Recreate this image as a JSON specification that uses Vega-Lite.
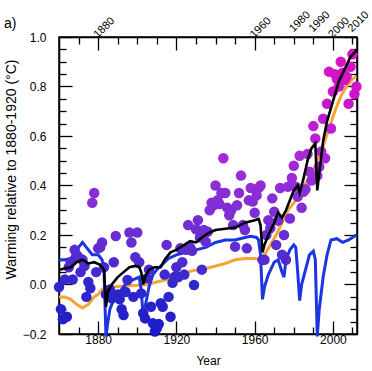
{
  "$schema": "https://vega.github.io/schema/vega-lite/v6.json",
  "width": 298,
  "height": 297,
  "autosize": {"type": "none"},
  "padding": {"left": 59, "top": 37, "right": 15, "bottom": 37},
  "background": "white",
  "config": {
    "font": "Liberation Sans",
    "view": {"stroke": "black", "strokeWidth": 1.5},
    "axis": {
      "labelFont": "Liberation Sans",
      "labelFontSize": 12,
      "labelColor": "black",
      "titleFont": "Liberation Sans",
      "titleFontSize": 12,
      "titleFontWeight": "normal",
      "titleColor": "black",
      "domainColor": "black",
      "domainWidth": 1.5,
      "tickColor": "black",
      "tickWidth": 1.3,
      "grid": false
    }
  },
  "title": {"text": "a)", "anchor": "start", "frame": "group", "fontSize": 14, "fontWeight": "normal", "font": "Liberation Sans", "color": "black", "dx": -55, "dy": 27},
  "datasets": {
    "points": [
      {"year":1860,"temp":-0.01},{"year":1861,"temp":-0.10},{"year":1862,"temp":-0.14},{"year":1863,"temp":0.02},{"year":1864,"temp":-0.13},
      {"year":1865,"temp":0.07},{"year":1866,"temp":0.09},{"year":1867,"temp":0.02},{"year":1868,"temp":0.14},{"year":1869,"temp":0.12},
      {"year":1870,"temp":0.11},{"year":1871,"temp":0.05},{"year":1872,"temp":0.10},{"year":1873,"temp":0.075},{"year":1874,"temp":-0.05},
      {"year":1875,"temp":0.01},{"year":1876,"temp":-0.015},{"year":1877,"temp":0.33},{"year":1878,"temp":0.37},{"year":1879,"temp":0.05},
      {"year":1880,"temp":0.146},{"year":1881,"temp":0.15},{"year":1882,"temp":0.17},{"year":1883,"temp":0.07},{"year":1884,"temp":-0.04},
      {"year":1885,"temp":-0.03},{"year":1886,"temp":-0.02},{"year":1887,"temp":-0.056},{"year":1888,"temp":0.09},{"year":1889,"temp":0.196},
      {"year":1890,"temp":-0.04},{"year":1891,"temp":-0.06},{"year":1892,"temp":-0.10},{"year":1893,"temp":-0.123},{"year":1894,"temp":-0.03},
      {"year":1895,"temp":0.018},{"year":1896,"temp":0.21},{"year":1897,"temp":0.17},{"year":1898,"temp":-0.05},{"year":1899,"temp":0.11},
      {"year":1900,"temp":0.21},{"year":1901,"temp":0.09},{"year":1902,"temp":-0.036},{"year":1903,"temp":-0.116},{"year":1904,"temp":-0.137},
      {"year":1905,"temp":0.025},{"year":1906,"temp":0.06},{"year":1907,"temp":-0.09},{"year":1908,"temp":-0.157},{"year":1909,"temp":-0.19},
      {"year":1910,"temp":-0.177},{"year":1911,"temp":-0.16},{"year":1912,"temp":-0.076},{"year":1913,"temp":-0.09},{"year":1914,"temp":0.04},
      {"year":1915,"temp":0.16},{"year":1916,"temp":-0.05},{"year":1917,"temp":-0.13},{"year":1918,"temp":0.007},{"year":1919,"temp":0.03},
      {"year":1920,"temp":0.07},{"year":1921,"temp":0.03},{"year":1922,"temp":0.146},{"year":1923,"temp":0.09},{"year":1924,"temp":0.04},
      {"year":1925,"temp":0.14},{"year":1926,"temp":0.24},{"year":1927,"temp":0.15},{"year":1928,"temp":0.136},{"year":1929,"temp":-0.002},
      {"year":1930,"temp":0.223},{"year":1931,"temp":0.26},{"year":1932,"temp":0.19},{"year":1933,"temp":0.06},{"year":1934,"temp":0.22},
      {"year":1935,"temp":0.173},{"year":1936,"temp":0.213},{"year":1937,"temp":0.30},{"year":1938,"temp":0.33},{"year":1939,"temp":0.32},
      {"year":1940,"temp":0.40},{"year":1941,"temp":0.34},{"year":1942,"temp":0.325},{"year":1943,"temp":0.37},{"year":1944,"temp":0.51},
      {"year":1945,"temp":0.37},{"year":1946,"temp":0.31},{"year":1947,"temp":0.28},{"year":1948,"temp":0.30},{"year":1949,"temp":0.24},
      {"year":1950,"temp":0.153},{"year":1951,"temp":0.32},{"year":1952,"temp":0.37},{"year":1953,"temp":0.44},{"year":1954,"temp":0.24},
      {"year":1955,"temp":0.22},{"year":1956,"temp":0.146},{"year":1957,"temp":0.34},{"year":1958,"temp":0.39},{"year":1959,"temp":0.335},
      {"year":1960,"temp":0.29},{"year":1961,"temp":0.36},{"year":1962,"temp":0.39},{"year":1963,"temp":0.40},{"year":1964,"temp":0.10},
      {"year":1965,"temp":0.10},{"year":1966,"temp":0.20},{"year":1967,"temp":0.26},{"year":1968,"temp":0.227},{"year":1969,"temp":0.348},
      {"year":1970,"temp":0.294},{"year":1971,"temp":0.16},{"year":1972,"temp":0.258},{"year":1973,"temp":0.39},{"year":1974,"temp":0.12},
      {"year":1975,"temp":0.20},{"year":1976,"temp":0.10},{"year":1977,"temp":0.395},{"year":1978,"temp":0.267},{"year":1979,"temp":0.43},
      {"year":1980,"temp":0.48},{"year":1981,"temp":0.395},{"year":1982,"temp":0.355},{"year":1983,"temp":0.52},{"year":1984,"temp":0.31},
      {"year":1985,"temp":0.375},{"year":1986,"temp":0.385},{"year":1987,"temp":0.527},{"year":1988,"temp":0.456},{"year":1989,"temp":0.42},
      {"year":1990,"temp":0.64},{"year":1991,"temp":0.59},{"year":1992,"temp":0.44},{"year":1993,"temp":0.476},{"year":1994,"temp":0.537},
      {"year":1995,"temp":0.67},{"year":1996,"temp":0.51},{"year":1997,"temp":0.73},{"year":1998,"temp":0.86},{"year":1999,"temp":0.63},
      {"year":2000,"temp":0.78},{"year":2001,"temp":0.85},{"year":2002,"temp":0.83},{"year":2003,"temp":0.80},{"year":2004,"temp":0.90},
      {"year":2005,"temp":0.856},{"year":2006,"temp":0.826},{"year":2007,"temp":0.84},{"year":2008,"temp":0.73},{"year":2009,"temp":0.88},
      {"year":2010,"temp":0.93},{"year":2011,"temp":0.77},{"year":2012,"temp":0.80}
    ],
    "lines": [
      {"s":"black","year":1860,"v":0.06},{"s":"black","year":1863,"v":0.065},{"s":"black","year":1866,"v":0.07},{"s":"black","year":1869,"v":0.09},
      {"s":"black","year":1872,"v":0.10},{"s":"black","year":1875,"v":0.085},{"s":"black","year":1878,"v":0.09},{"s":"black","year":1881,"v":0.08},
      {"s":"black","year":1883,"v":0.06},{"s":"black","year":1884,"v":-0.09},{"s":"black","year":1885,"v":-0.03},{"s":"black","year":1887,"v":0.0},
      {"s":"black","year":1890,"v":0.03},{"s":"black","year":1893,"v":0.05},{"s":"black","year":1896,"v":0.07},{"s":"black","year":1899,"v":0.075},
      {"s":"black","year":1901,"v":0.07},{"s":"black","year":1902,"v":0.05},{"s":"black","year":1903,"v":0.0},{"s":"black","year":1904,"v":0.03},
      {"s":"black","year":1906,"v":0.06},{"s":"black","year":1909,"v":0.07},{"s":"black","year":1912,"v":0.07},{"s":"black","year":1914,"v":0.10},
      {"s":"black","year":1917,"v":0.13},{"s":"black","year":1920,"v":0.14},{"s":"black","year":1924,"v":0.16},{"s":"black","year":1927,"v":0.175},
      {"s":"black","year":1930,"v":0.17},{"s":"black","year":1933,"v":0.19},{"s":"black","year":1937,"v":0.21},{"s":"black","year":1940,"v":0.22},
      {"s":"black","year":1945,"v":0.225},{"s":"black","year":1950,"v":0.23},{"s":"black","year":1955,"v":0.25},{"s":"black","year":1960,"v":0.26},
      {"s":"black","year":1962,"v":0.265},{"s":"black","year":1963,"v":0.24},{"s":"black","year":1964,"v":0.13},{"s":"black","year":1965,"v":0.16},
      {"s":"black","year":1967,"v":0.20},{"s":"black","year":1970,"v":0.25},{"s":"black","year":1972,"v":0.29},{"s":"black","year":1974,"v":0.27},
      {"s":"black","year":1976,"v":0.30},{"s":"black","year":1978,"v":0.34},{"s":"black","year":1980,"v":0.38},{"s":"black","year":1982,"v":0.40},
      {"s":"black","year":1983,"v":0.37},{"s":"black","year":1985,"v":0.43},{"s":"black","year":1987,"v":0.50},{"s":"black","year":1989,"v":0.55},
      {"s":"black","year":1991,"v":0.57},{"s":"black","year":1992,"v":0.38},{"s":"black","year":1993,"v":0.45},{"s":"black","year":1995,"v":0.58},
      {"s":"black","year":1997,"v":0.66},{"s":"black","year":2000,"v":0.74},{"s":"black","year":2003,"v":0.82},{"s":"black","year":2006,"v":0.87},
      {"s":"black","year":2009,"v":0.92},{"s":"black","year":2012,"v":0.945},

      {"s":"orange","year":1860,"v":-0.05},{"s":"orange","year":1863,"v":-0.05},{"s":"orange","year":1866,"v":-0.06},{"s":"orange","year":1869,"v":-0.08},
      {"s":"orange","year":1872,"v":-0.095},{"s":"orange","year":1875,"v":-0.08},{"s":"orange","year":1878,"v":-0.05},{"s":"orange","year":1880,"v":-0.04},
      {"s":"orange","year":1882,"v":-0.02},{"s":"orange","year":1884,"v":-0.01},{"s":"orange","year":1887,"v":-0.01},{"s":"orange","year":1890,"v":-0.008},
      {"s":"orange","year":1895,"v":-0.005},{"s":"orange","year":1900,"v":-0.003},{"s":"orange","year":1905,"v":0.0},{"s":"orange","year":1910,"v":0.01},
      {"s":"orange","year":1915,"v":0.02},{"s":"orange","year":1920,"v":0.04},{"s":"orange","year":1925,"v":0.05},{"s":"orange","year":1930,"v":0.058},
      {"s":"orange","year":1935,"v":0.065},{"s":"orange","year":1940,"v":0.075},{"s":"orange","year":1945,"v":0.085},{"s":"orange","year":1950,"v":0.10},
      {"s":"orange","year":1955,"v":0.105},{"s":"orange","year":1960,"v":0.105},{"s":"orange","year":1963,"v":0.10},{"s":"orange","year":1965,"v":0.12},
      {"s":"orange","year":1968,"v":0.16},{"s":"orange","year":1971,"v":0.20},{"s":"orange","year":1974,"v":0.25},{"s":"orange","year":1977,"v":0.30},
      {"s":"orange","year":1980,"v":0.33},{"s":"orange","year":1983,"v":0.36},{"s":"orange","year":1986,"v":0.41},{"s":"orange","year":1989,"v":0.44},
      {"s":"orange","year":1992,"v":0.50},{"s":"orange","year":1995,"v":0.56},{"s":"orange","year":1998,"v":0.63},{"s":"orange","year":2001,"v":0.70},
      {"s":"orange","year":2004,"v":0.76},{"s":"orange","year":2007,"v":0.80},{"s":"orange","year":2010,"v":0.83},{"s":"orange","year":2012,"v":0.84},

      {"s":"blue","year":1860,"v":0.10},{"s":"blue","year":1863,"v":0.10},{"s":"blue","year":1866,"v":0.105},{"s":"blue","year":1869,"v":0.14},
      {"s":"blue","year":1872,"v":0.17},{"s":"blue","year":1874,"v":0.15},{"s":"blue","year":1877,"v":0.12},{"s":"blue","year":1880,"v":0.12},
      {"s":"blue","year":1882,"v":0.10},{"s":"blue","year":1883,"v":0.06},{"s":"blue","year":1884,"v":-0.21},{"s":"blue","year":1885,"v":-0.15},
      {"s":"blue","year":1886,"v":-0.10},{"s":"blue","year":1888,"v":-0.06},{"s":"blue","year":1891,"v":-0.03},{"s":"blue","year":1894,"v":0.0},
      {"s":"blue","year":1898,"v":0.02},{"s":"blue","year":1901,"v":0.03},{"s":"blue","year":1902,"v":-0.02},{"s":"blue","year":1903,"v":-0.13},
      {"s":"blue","year":1904,"v":-0.09},{"s":"blue","year":1906,"v":-0.01},{"s":"blue","year":1908,"v":0.04},{"s":"blue","year":1910,"v":0.06},
      {"s":"blue","year":1914,"v":0.09},{"s":"blue","year":1916,"v":0.105},{"s":"blue","year":1920,"v":0.12},{"s":"blue","year":1925,"v":0.13},
      {"s":"blue","year":1930,"v":0.14},{"s":"blue","year":1935,"v":0.15},{"s":"blue","year":1940,"v":0.17},{"s":"blue","year":1945,"v":0.18},
      {"s":"blue","year":1950,"v":0.18},{"s":"blue","year":1955,"v":0.19},{"s":"blue","year":1958,"v":0.195},{"s":"blue","year":1961,"v":0.19},
      {"s":"blue","year":1962,"v":0.18},{"s":"blue","year":1963,"v":0.12},{"s":"blue","year":1964,"v":-0.06},{"s":"blue","year":1965,"v":-0.01},
      {"s":"blue","year":1967,"v":0.04},{"s":"blue","year":1970,"v":0.09},{"s":"blue","year":1972,"v":0.10},{"s":"blue","year":1974,"v":0.05},
      {"s":"blue","year":1975,"v":0.03},{"s":"blue","year":1976,"v":0.10},{"s":"blue","year":1978,"v":0.14},{"s":"blue","year":1980,"v":0.16},
      {"s":"blue","year":1981,"v":0.15},{"s":"blue","year":1982,"v":0.05},{"s":"blue","year":1983,"v":-0.065},{"s":"blue","year":1984,"v":0.0},
      {"s":"blue","year":1986,"v":0.06},{"s":"blue","year":1988,"v":0.12},{"s":"blue","year":1990,"v":0.135},{"s":"blue","year":1991,"v":0.10},
      {"s":"blue","year":1992,"v":-0.21},{"s":"blue","year":1993,"v":-0.10},{"s":"blue","year":1995,"v":0.03},{"s":"blue","year":1997,"v":0.12},
      {"s":"blue","year":1999,"v":0.18},{"s":"blue","year":2002,"v":0.185},{"s":"blue","year":2005,"v":0.17},{"s":"blue","year":2008,"v":0.18},
      {"s":"blue","year":2012,"v":0.20}
    ]
  },
  "layer": [
    {
      "data": {"name": "lines"},
      "transform": [{"filter": "datum.s === 'orange'"}],
      "mark": {"type": "line", "color": "#f5a533", "strokeWidth": 3, "clip": false},
      "encoding": {
        "x": {"field": "year", "type": "quantitative",
          "scale": {"domain": [1860, 2012.3], "nice": false, "zero": false},
          "axis": {"orient": "top", "title": null, "format": "d",
            "values": [1870,1880,1890,1900,1910,1920,1930,1940,1950,1960,1970,1980,1990,2000,2010],
            "labelExpr": "indexof([1880,1960,1980,1990,2000,2010], datum.value) >= 0 ? datum.label : ''",
            "tickSize": {"condition": {"test": "datum.value % 40 === 0", "value": -13}, "value": -7},
            "labelFontSize": 11, "labelOffset": -3,
            "labelAngle": -45, "labelAlign": "left", "labelBaseline": "middle", "labelPadding": 14, "labelFlush": false, "labelOverlap": false}},
        "y": {"field": "v", "type": "quantitative",
          "scale": {"domain": [-0.2, 1.0], "nice": false, "zero": false},
          "axis": {"orient": "right", "title": null, "labels": false,
            "values": [-0.2,-0.15,-0.1,-0.05,0,0.05,0.1,0.15,0.2,0.25,0.3,0.35,0.4,0.45,0.5,0.55,0.6,0.65,0.7,0.75,0.8,0.85,0.9,0.95,1.0],
            "tickSize": {"condition": {"test": "abs(datum.value*5 - round(datum.value*5)) < 0.01", "value": -13}, "value": -7}}}
      }
    },
    {
      "data": {"name": "lines"},
      "transform": [{"filter": "datum.s === 'blue'"}],
      "mark": {"type": "line", "color": "#1c35e0", "strokeWidth": 3, "clip": false},
      "encoding": {
        "x": {"field": "year", "type": "quantitative", "scale": {"domain": [1860, 2012.3], "nice": false, "zero": false}, "axis": null},
        "y": {"field": "v", "type": "quantitative", "scale": {"domain": [-0.2, 1.0], "nice": false, "zero": false}, "axis": null}
      }
    },
    {
      "data": {"name": "points"},
      "mark": {"type": "circle", "size": 110, "opacity": 1, "clip": false},
      "encoding": {
        "x": {"field": "year", "type": "quantitative",
          "scale": {"domain": [1860, 2012.3], "nice": false, "zero": false},
          "axis": {"orient": "bottom", "title": "Year", "format": "d", "titlePadding": 4,
            "values": [1870,1880,1890,1900,1910,1920,1930,1940,1950,1960,1970,1980,1990,2000,2010],
            "labelExpr": "datum.value % 40 === 0 ? datum.label : ''",
            "tickSize": {"condition": {"test": "datum.value % 40 === 0", "value": -13}, "value": -7},
            "labelPadding": 13, "labelFlush": false, "labelOverlap": false}},
        "y": {"field": "temp", "type": "quantitative",
          "scale": {"domain": [-0.2, 1.0], "nice": false, "zero": false},
          "axis": {"orient": "left", "title": "Warming relative to 1880-1920 (°C)", "format": ".1f",
            "values": [-0.2,-0.15,-0.1,-0.05,0,0.05,0.1,0.15,0.2,0.25,0.3,0.35,0.4,0.45,0.5,0.55,0.6,0.65,0.7,0.75,0.8,0.85,0.9,0.95,1.0],
            "labelExpr": "abs(datum.value*5 - round(datum.value*5)) < 0.01 ? datum.label : ''",
            "tickSize": {"condition": {"test": "abs(datum.value*5 - round(datum.value*5)) < 0.01", "value": -13}, "value": -7},
            "titleFontSize": 14, "titleY": 132,
            "labelPadding": 26, "titlePadding": 4, "labelOverlap": false}},
        "color": {"field": "temp", "type": "quantitative", "legend": null,
          "scale": {"domain": [-0.2, 0.0, 0.2, 0.45, 0.7, 0.95], "range": ["#1a1ac8", "#3028cc", "#6a2fd2", "#9a2cd8", "#c41ad0", "#e010c0"]}}
      }
    },
    {
      "data": {"name": "lines"},
      "transform": [{"filter": "datum.s === 'black'"}],
      "mark": {"type": "line", "color": "black", "strokeWidth": 2.6, "clip": false},
      "encoding": {
        "x": {"field": "year", "type": "quantitative", "scale": {"domain": [1860, 2012.3], "nice": false, "zero": false}, "axis": null},
        "y": {"field": "v", "type": "quantitative", "scale": {"domain": [-0.2, 1.0], "nice": false, "zero": false}, "axis": null}
      }
    }
  ],
  "resolve": {"axis": {"x": "independent", "y": "independent"}}
}
